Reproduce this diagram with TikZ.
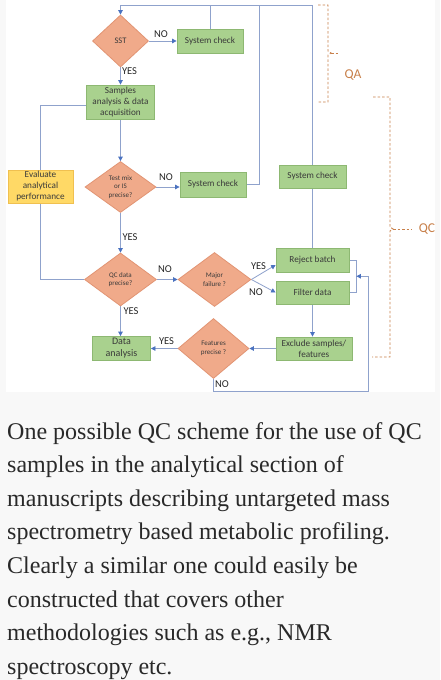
\documentclass[tikz,border=0pt]{standalone}
\usepackage{fontspec}
\setmainfont{Liberation Serif}
\newfontfamily\diagfont{Carlito}
\usetikzlibrary{shapes.geometric,arrows.meta,calc}
\definecolor{pagebg}{RGB}{248,248,248}
\definecolor{dfill}{HTML}{F0AA8A}
\definecolor{dborder}{HTML}{E29473}
\definecolor{gfill}{HTML}{A9D18E}
\definecolor{gborder}{HTML}{8DB872}
\definecolor{yfill}{HTML}{FFD966}
\definecolor{yborder}{HTML}{F0C050}
\definecolor{lcol}{HTML}{8FA2CC}
\definecolor{acol}{HTML}{4A72C0}
\definecolor{brkcol}{HTML}{C8804A}
\definecolor{txt}{HTML}{3A3A3A}
\definecolor{captxt}{RGB}{41,41,41}
\pgfdeclarelayer{back}
\pgfdeclarelayer{lines}
\pgfsetlayers{back,lines,main}
\begin{document}
\begin{tikzpicture}[x=1pt,y=-1pt,
  box/.style={draw=gborder, fill=gfill, line width=0.8pt, inner sep=0pt, align=center, text=txt,
    font=\diagfont\fontsize{9.2}{11}\selectfont},
  ybox/.style={box, draw=yborder, fill=yfill},
  dia/.style={diamond, draw=dborder, fill=dfill, line width=0.8pt, inner sep=0pt, align=center, text=txt,
    font=\diagfont\fontsize{7}{8.5}\selectfont},
  conn/.style={draw=lcol, line width=0.8pt},
  arr/.style={conn, -{Triangle[length=4.5pt,width=4.5pt,color=acol]}},
  lab/.style={font=\diagfont\fontsize{10.5}{12}\selectfont, text=black!85, inner sep=0pt},
  brk/.style={draw=brkcol, line width=0.9pt, dash pattern=on 2.5pt off 2pt},
  brklab/.style={font=\diagfont\fontsize{13.5}{15}\selectfont, text=brkcol, inner sep=0pt},
  captionline/.style={anchor=base west, inner sep=0pt, text=captxt, font=\fontsize{24}{28}\selectfont}
]
\useasboundingbox (0,0) rectangle (440,680);
\begin{pgfonlayer}{back}
\fill[pagebg] (0,0) rectangle (440,680);
\fill[white] (6,0) rectangle (435,392);
\end{pgfonlayer}

% nodes
\node[dia, minimum width=56pt, minimum height=52pt, font=\diagfont\fontsize{8.5}{10}\selectfont] (sst) at (120.5,41) {SST};
\node[box, minimum width=66pt, minimum height=24pt] (sc1) at (210,41) {System check};
\node[box, minimum width=68pt, minimum height=34pt] (samp) at (120.5,102) {Samples\\analysis \& data\\acquisition};
\node[ybox, minimum width=65pt, minimum height=33pt] (eval) at (40.5,186.5) {Evaluate\\analytical\\performance};
\node[dia, minimum width=71pt, minimum height=51pt] (test) at (120.5,187) {Test mix\\or IS\\precise?};
\node[box, minimum width=66pt, minimum height=25pt] (sc2) at (213,184.5) {System check};
\node[box, minimum width=67pt, minimum height=23pt] (sc3) at (312.5,176.5) {System check};
\node[dia, minimum width=72pt, minimum height=53pt] (qc) at (120.5,279.5) {QC data\\precise?};
\node[dia, minimum width=73pt, minimum height=54pt] (major) at (214.5,279.5) {Major\\failure ?};
\node[box, minimum width=73pt, minimum height=24pt] (reject) at (312.5,260) {Reject batch};
\node[box, minimum width=73pt, minimum height=23pt] (filter) at (312.5,292.5) {Filter data};
\node[box, minimum width=76pt, minimum height=23pt] (excl) at (314,348.5) {Exclude samples/\\features};
\node[dia, minimum width=71pt, minimum height=60pt] (feat) at (213.5,348.5) {Features\\precise ?};
\node[box, minimum width=58pt, minimum height=24pt, font=\diagfont\fontsize{10}{12}\selectfont] (data) at (121.5,348.5) {Data\\analysis};

% helper coordinates
\coordinate (top) at (0,5);
\coordinate (v2) at (259,0);
\coordinate (lx) at (40,0);
\coordinate (nr) at (368,391);
\coordinate (fb) at ($(reject.east)!0.5!(filter.east)+(7,0)$);

\begin{pgfonlayer}{lines}
\draw[arr] (sst.east) -- (sc1.west);
\draw[arr] (sst.south) -- (samp.north);
\draw[arr] (samp.south) -- (test.north);
\draw[arr] (test.east) -- (test.east -| sc2.west);
\draw[arr] (test.south) -- (qc.north);
\draw[arr] (qc.east) -- (major.west);
\draw[arr] (qc.south) -- (data.north -| qc.south);
\draw[arr] (major.east) -- ($(reject.west)+(0,5)$);
\draw[arr] (major.east) -- (filter.west);
\draw[arr] (filter.south) -- (filter.south |- excl.north);
\draw[arr] (excl.west) -- (feat.east);
\draw[arr] (feat.west) -- (data.east);
\draw[conn] (reject.east) -- ++(7,0) |- (filter.east);
\draw[arr] (feat.south) |- (nr) |- (fb);
\draw[conn] (reject.north) -- (sc3.south);
\draw[arr] (sc3.north) -- (sc3.north |- top) -- (sst.north |- top) -- (sst.north);
\draw[conn] (sc1.north) -- (sc1.north |- top);
\draw[conn] (sc2.east) -- (v2 |- sc2.east) -- (v2 |- top);
\draw[conn] ($(samp.west)+(0,3)$) -| (lx |- qc.west) -- (qc.west);
\end{pgfonlayer}

% labels
\node[lab] (l1) at (161,34) {NO};
\node[lab] (l2) at (129.5,71) {YES};
\node[lab] (l3) at (166,177) {NO};
\node[lab] (l4) at (130,237) {YES};
\node[lab] (l5) at (165,269.5) {NO};
\node[lab] (l6) at (131,311) {YES};
\node[lab] (l7) at (166.5,341) {YES};
\node[lab] (l8) at (258.5,266) {YES};
\node[lab] (l9) at (256,292.5) {NO};
\node[lab] (l10) at (222,384) {NO};

% brackets
\draw[brk] (318,5) -- (328,5) -- (328,51) -- (331,53) -- (328,55) -- (328,102) -- (318,102);
\draw[brk] (331,53) -- (338,53);
\node[brklab] (qa) at (353,75) {QA};
\draw[brk] (373,97) -- (390,97) -- (390,227) -- (393,229) -- (390,231) -- (390,357) -- (372,357);
\draw[brk] (393,229) -- (412,229);
\node[brklab] (qcl) at (427,229) {QC};

% caption
\node[captionline] (c1) at (7,439) {One possible QC scheme for the use of QC};
\node[captionline] (c2) at (7,472.6) {samples in the analytical section of};
\node[captionline] (c3) at (7,506.2) {manuscripts describing untargeted mass};
\node[captionline] (c4) at (7,539.8) {spectrometry based metabolic profiling.};
\node[captionline] (c5) at (7,573.4) {Clearly a similar one could easily be};
\node[captionline] (c6) at (7,607) {constructed that covers other};
\node[captionline] (c7) at (7,640.6) {methodologies such as e.g., NMR};
\node[captionline] (c8) at (7,674.2) {spectroscopy etc.};
\end{tikzpicture}
\end{document}
